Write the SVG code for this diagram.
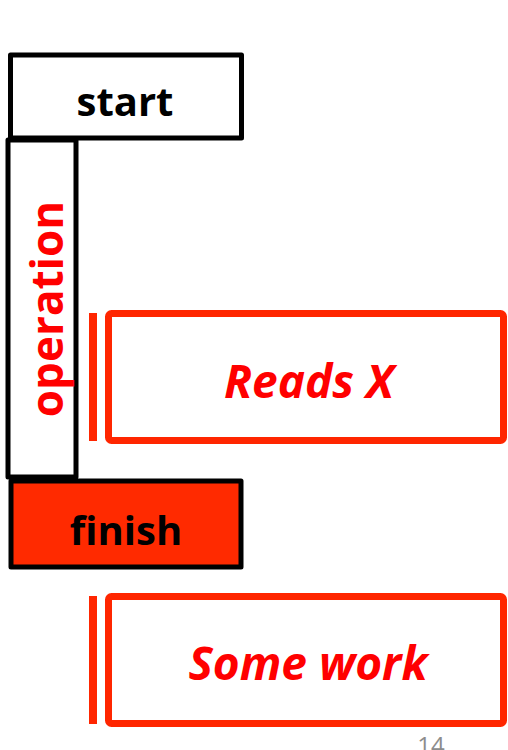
<svg xmlns="http://www.w3.org/2000/svg" width="508" height="750" viewBox="0 0 508 750">
  <style>
    .lbl { font-family: "Open Sans", "Liberation Sans", sans-serif; font-weight: bold; text-anchor: middle; }
    .dark { fill: #000000; }
    .red { fill: #ff0000; }
    .act { font-style: italic; font-size: 46px; }
    .blk { stroke: #000000; stroke-width: 5; stroke-linejoin: round; }
    .task { fill: #ffffff; stroke: #ff2600; stroke-width: 7; }
    .bar { fill: #ff2600; }
  </style>
  <rect width="508" height="750" fill="#ffffff"/>

  <g id="start">
    <rect class="blk" x="10.5" y="55" width="231" height="83" fill="#ffffff"/>
    <text class="lbl dark" x="125" y="116" font-size="40">start</text>
  </g>

  <g id="operation">
    <rect class="blk" x="8" y="140" width="68" height="337" fill="#ffffff"/>
    <text class="lbl red" font-size="44" transform="translate(63 309) rotate(-90)">operation</text>
  </g>

  <g id="finish">
    <rect class="blk" x="11" y="481" width="230" height="86" fill="#ff2a00" stroke-width="6"/>
    <text class="lbl dark" x="126" y="545" font-size="40">finish</text>
  </g>

  <g id="reads-x">
    <rect class="bar" x="89" y="313" width="8" height="128"/>
    <rect class="task" x="108.5" y="313.5" width="395" height="127" rx="3"/>
    <text class="lbl red act" x="309" y="398">Reads X</text>
  </g>

  <g id="some-work">
    <rect class="bar" x="89" y="596" width="8" height="128"/>
    <rect class="task" x="108.5" y="596.5" width="395" height="127" rx="3"/>
    <text class="lbl red act" x="308" y="680">Some work</text>
  </g>

  <!-- page number, running off the lower edge -->
  <text x="431" y="754" font-family="'Open Sans', 'Liberation Sans', sans-serif" font-size="24" fill="#8c8c8c" text-anchor="middle">14</text>
</svg>
